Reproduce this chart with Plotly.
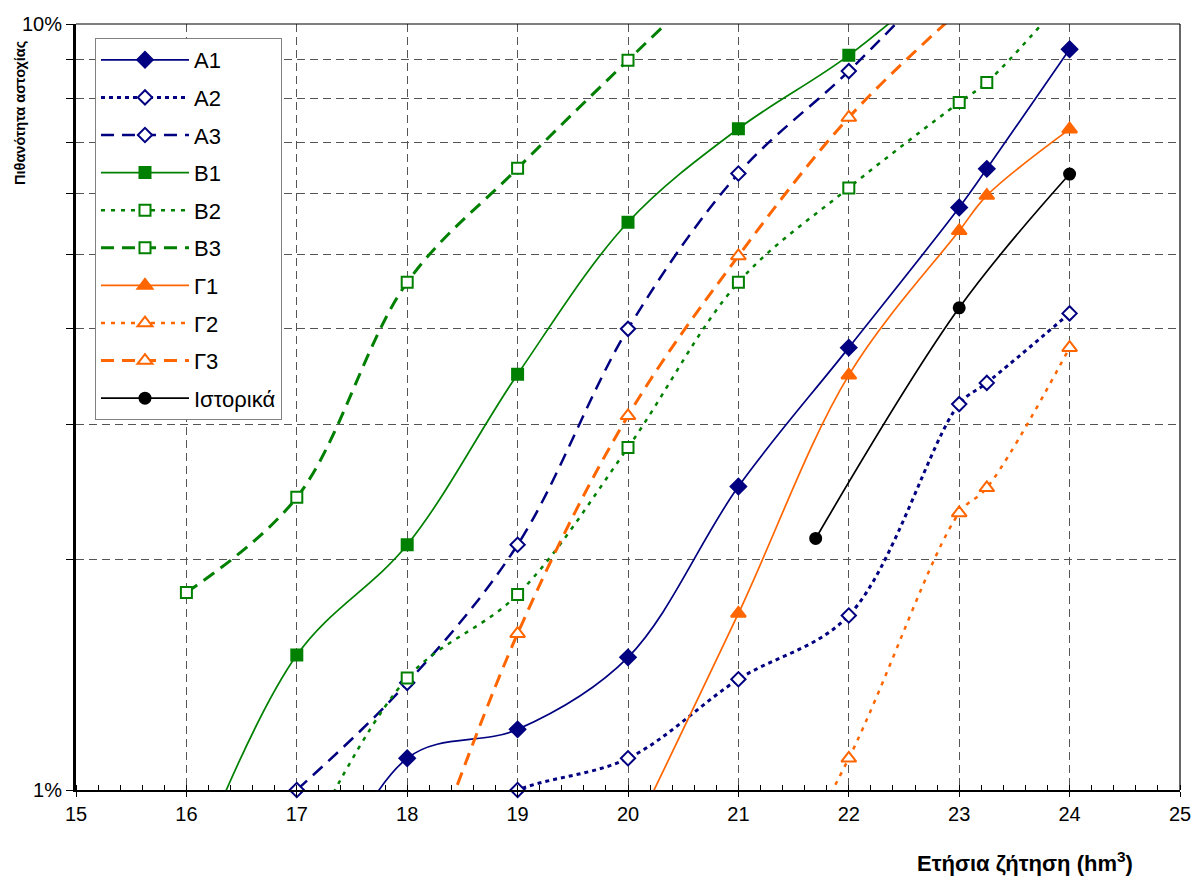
import plotly.graph_objects as go

# ---- data (probability of failure, %, vs annual demand, hm3) ----
A1_x = [17, 18, 19, 20, 21, 22, 23, 23.25, 24]
A1_y = [0.6, 1.10, 1.20, 1.49, 2.49, 3.78, 5.76, 6.47, 9.27]
A2_x = [18, 19, 20, 21, 22, 23, 23.25, 24]
A2_y = [0.85, 1.0, 1.10, 1.395, 1.69, 3.19, 3.40, 4.19]
A3_x = [16, 17, 18, 19, 20, 21, 22, 23]
A3_y = [0.75, 1.0, 1.38, 2.09, 4.0, 6.38, 8.68, 12.2]
B1_x = [16, 17, 18, 19, 20, 21, 22, 23]
B1_y = [0.75, 1.50, 2.09, 3.49, 5.51, 7.30, 9.10, 12.0]
B2_x = [17, 18, 19, 20, 21, 22, 23, 23.25, 24]
B2_y = [0.8, 1.40, 1.80, 2.80, 4.60, 6.11, 7.90, 8.39, 11.0]
B3_x = [16, 17, 18, 19, 20, 21]
B3_y = [1.81, 2.41, 4.60, 6.48, 8.97, 12.3]
G1_x = [20, 21, 22, 23, 23.25, 24]
G1_y = [0.85, 1.70, 3.48, 5.37, 5.97, 7.29]
G2_x = [21, 22, 23, 23.25, 24]
G2_y = [0.6, 1.10, 2.30, 2.48, 3.78]
G3_x = [18, 19, 20, 21, 22, 23]
G3_y = [0.67, 1.60, 3.08, 4.98, 7.55, 10.4]
H_x = [21.7, 23, 24]
H_y = [2.13, 4.26, 6.37]

names = ["A1", "A2", "A3", "B1", "B2", "B3", "Γ1", "Γ2", "Γ3", "Ιστορικά"]
xs = [A1_x, A2_x, A3_x, B1_x, B2_x, B3_x, G1_x, G2_x, G3_x, H_x]
ys = [A1_y, A2_y, A3_y, B1_y, B2_y, B3_y, G1_y, G2_y, G3_y, H_y]

x_ticks = list(range(15, 26))
y_tickvals = [1, 10]
y_ticktext = ["1%", "10%"]
y_minor_vals = [2, 3, 4, 5, 6, 7, 8, 9]

NAVY = "#000080"
GREEN = "#008000"
ORANGE = "#FF6600"
BLACK = "#000000"

styles = [
    dict(color=NAVY, width=1.7, dash="solid", symbol="diamond", fill=NAVY, size=12),
    dict(color=NAVY, width=3, dash="4px,4px", symbol="diamond", fill="white", size=11),
    dict(color=NAVY, width=2.5, dash="13px,8px", symbol="diamond", fill="white", size=11),
    dict(color=GREEN, width=1.7, dash="solid", symbol="square", fill=GREEN, size=11),
    dict(color=GREEN, width=2.5, dash="4px,6px", symbol="square", fill="white", size=11),
    dict(color=GREEN, width=3, dash="13px,8px", symbol="square", fill="white", size=11),
    dict(color=ORANGE, width=1.7, dash="solid", symbol="triangle-up", fill=ORANGE, size=13),
    dict(color=ORANGE, width=2.5, dash="4px,6px", symbol="triangle-up", fill="white", size=13),
    dict(color=ORANGE, width=3, dash="13px,8px", symbol="triangle-up", fill="white", size=13),
    dict(color=BLACK, width=1.7, dash="solid", symbol="circle", fill=BLACK, size=11),
]

fig = go.Figure()
for n, x, y, s in zip(names, xs, ys, styles):
    fig.add_trace(go.Scatter(
        x=x, y=y, name=n, mode="lines+markers",
        line=dict(color=s["color"], width=s["width"], dash=s["dash"], shape="spline", smoothing=1),
        marker=dict(symbol=s["symbol"], size=s["size"], color=s["fill"],
                    line=dict(color=s["color"], width=2)),
        cliponaxis=False, legendgroup=n,
    ))

GRID = dict(gridcolor="#555555", griddash="8px,5px", gridwidth=1)

fig.update_layout(
    width=1195, height=880,
    margin=dict(l=76, r=15, t=24, b=90, autoexpand=False),
    plot_bgcolor="white", paper_bgcolor="white",
    font=dict(family="Arial, Liberation Sans, sans-serif", color="black", size=20),
    showlegend=True,
    legend=dict(x=0.0172, y=0.9817, xanchor="left", yanchor="top",
                bgcolor="white", bordercolor="#808080", borderwidth=1,
                font=dict(size=22), itemwidth=88, tracegroupgap=6,
                traceorder="grouped"),
    xaxis=dict(range=[15, 25], tickvals=x_ticks, ticks="outside", ticklen=5,
               tickcolor="black", showline=True, linecolor="black", linewidth=2,
               showgrid=True, zeroline=False, tickfont=dict(size=20), automargin=False,
               minor=dict(dtick=0.2, ticks="inside", ticklen=5, tickcolor="black", showgrid=False),
               **GRID),
    yaxis=dict(type="log", range=[0, 1], tickvals=y_tickvals, ticktext=y_ticktext,
               ticks="outside", ticklen=7, tickcolor="black",
               showline=True, linecolor="black", linewidth=3,
               showgrid=True, zeroline=False, tickfont=dict(size=20), automargin=False,
               minor=dict(tickvals=y_minor_vals, ticks="outside", ticklen=7, tickcolor="black",
                          showgrid=True, **GRID),
               **GRID),
)

fig.add_shape(type="line", xref="paper", yref="paper", x0=0, x1=1, y0=1, y1=1,
              line=dict(color="black", width=1.2))
fig.add_shape(type="line", xref="paper", yref="paper", x0=1, x1=1, y0=0, y1=1,
              line=dict(color="black", width=1.2))

fig.add_annotation(text="<b>Πιθανότητα αστοχίας</b>", textangle=-90,
                   xref="paper", yref="paper", x=-0.0507, y=0.884,
                   xanchor="center", yanchor="middle", showarrow=False,
                   font=dict(size=14.5))
fig.add_annotation(text="<b>Ετήσια ζήτηση (hm<sup>3</sup>)</b>",
                   xref="paper", yref="paper", x=0.8596, y=-0.094,
                   xanchor="center", yanchor="middle", showarrow=False,
                   font=dict(size=22))

# remove the default 8px page margin so the figure fills the window exactly
fig.write_html("out.html", config={"displayModeBar": False},
               post_script="document.body.style.margin='0px';document.body.style.overflow='hidden';")
